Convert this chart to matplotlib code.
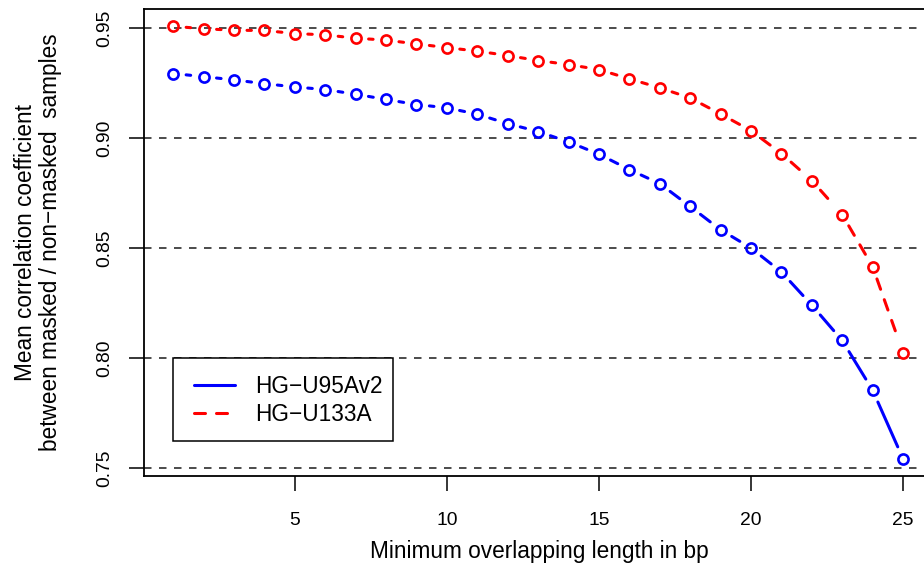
import numpy as np
import matplotlib
matplotlib.use("Agg")
import matplotlib.pyplot as plt
from matplotlib.lines import Line2D
from matplotlib.patches import Rectangle

plt.rcParams['font.family'] = ['Liberation Sans', 'DejaVu Sans']

# ---- data ----
overlap_len = list(range(1, 26))
hg_u95av2 = [0.9295, 0.9281, 0.9266, 0.9249, 0.9234, 0.9222, 0.9201, 0.9177,
             0.9154, 0.9139, 0.9110, 0.9067, 0.9031, 0.8984, 0.8928, 0.8858,
             0.8794, 0.8690, 0.8584, 0.8501, 0.8392, 0.8241, 0.8080, 0.7854,
             0.7542]
hg_u133a = [0.9510, 0.9499, 0.9492, 0.9491, 0.9477, 0.9471, 0.9456, 0.9447,
            0.9430, 0.9413, 0.9397, 0.9377, 0.9354, 0.9336, 0.9313, 0.9271,
            0.9230, 0.9184, 0.9111, 0.9035, 0.8931, 0.8808, 0.8653, 0.8416,
            0.8025]
series_names = ["HG\u2212U95Av2", "HG\u2212U133A"]
x_ticks = [5, 10, 15, 20, 25]
y_ticks = [0.75, 0.80, 0.85, 0.90, 0.95]
grid_levels = [0.75, 0.80, 0.85, 0.90, 0.95]

W, H, DPI = 924, 569, 100
fig = plt.figure(figsize=(W / DPI, H / DPI), dpi=DPI)
left_px, right_px, top_px, bot_px = 144, 932.2, 9, 476
ax = fig.add_axes([left_px / W, (H - bot_px) / H,
                   (right_px - left_px) / W, (bot_px - top_px) / H])

# R-style 4% padded limits
xs = np.array(overlap_len, dtype=float)
allv = np.concatenate([hg_u95av2, hg_u133a])
xr = xs.max() - xs.min()
yr = allv.max() - allv.min()
ax.set_xlim(xs.min() - 0.04 * xr, xs.max() + 0.04 * xr)
ax.set_ylim(allv.min() - 0.04 * yr, allv.max() + 0.04 * yr)

# grid lines (abline h=..., lty=2)
glw = 1.1
for g in grid_levels:
    ax.axhline(g, color='#1a1a1a', lw=glw, dashes=(5.4 / glw, 5.4 / glw), zorder=1)

LW = 2.2
GAP = 13.0  # px gap around points (type = "b")


def draw_type_b(xv, yv, color, dashed):
    pts = ax.transData.transform(np.column_stack([xv, yv]))
    inv = ax.transData.inverted()
    for i in range(len(pts) - 1):
        p0, p1 = pts[i], pts[i + 1]
        d = np.hypot(*(p1 - p0))
        if d <= 2 * GAP:
            continue
        u = (p1 - p0) / d
        a = inv.transform(p0 + GAP * u)
        b = inv.transform(p1 - GAP * u)
        kw = dict(color=color, lw=LW, solid_capstyle='round', zorder=3)
        if dashed:
            kw.update(dashes=(3.6, 3.6), dash_capstyle='round')
        ax.plot([a[0], b[0]], [a[1], b[1]], **kw)
    ax.plot(xv, yv, linestyle='none', marker='o', markersize=7.3,
            markerfacecolor='none', markeredgecolor=color, markeredgewidth=1.9,
            zorder=4)


draw_type_b(xs, np.array(hg_u95av2), '#0000FF', False)
draw_type_b(xs, np.array(hg_u133a), '#FF0000', True)

# axes styling
for s in ax.spines.values():
    s.set_linewidth(1.3)
    s.set_color('black')
ax.set_xticks(x_ticks)
ax.set_xticklabels([str(t) for t in x_ticks])
ax.set_yticks(y_ticks)
ax.set_yticklabels([f"{t:.2f}" for t in y_ticks])
ax.tick_params(axis='both', direction='out', length=10.5, width=1.1,
               labelsize=13.9, color='black')
ax.tick_params(axis='x', pad=24.5)
ax.tick_params(axis='y', pad=14.5)
for lbl in ax.get_xticklabels():
    lbl.set_va('baseline')
for lbl in ax.get_yticklabels():
    lbl.set_rotation(90)
    lbl.set_rotation_mode('anchor')
    lbl.set_ha('center')
    lbl.set_va('baseline')

LABFS = 16.3
cy = (H - (top_px + bot_px) / 2) / H
fig.text(32 / W, cy, "Mean correlation coefficient", rotation=90,
         rotation_mode='anchor', ha='center', va='baseline', fontsize=LABFS)
fig.text(57 / W, cy, "between masked / non\u2212masked  samples", rotation=90,
         rotation_mode='anchor', ha='center', va='baseline', fontsize=LABFS)
fig.text(539 / W, (H - 558) / H, "Minimum overlapping length in bp",
         ha='center', va='baseline', fontsize=LABFS)

# legend: R-style box drawn separately, entries via matplotlib legend
lx0, lx1, ly0, ly1 = 173, 393.3, 358.3, 440.7
box = Rectangle((lx0 / W, (H - ly1) / H), (lx1 - lx0) / W, (ly1 - ly0) / H,
                transform=fig.transFigure, facecolor='white',
                edgecolor='black', lw=1.1, zorder=5, clip_on=False)
ax.add_patch(box)
handles = [Line2D([], [], color='#0000FF', lw=LW, solid_capstyle='round'),
           Line2D([], [], color='#FF0000', lw=LW, dashes=(3.6, 3.6),
                  dash_capstyle='round')]
leg = ax.legend(handles, series_names, loc='upper left',
                bbox_to_anchor=(193.8 / W, (H - 375.0) / H),
                bbox_transform=fig.transFigure, fontsize=LABFS,
                frameon=False, borderpad=0,
                handlelength=1.8, handletextpad=0.93, labelspacing=0.22,
                borderaxespad=0)
leg.set_zorder(6)

fig.savefig("out.png", dpi=DPI)
